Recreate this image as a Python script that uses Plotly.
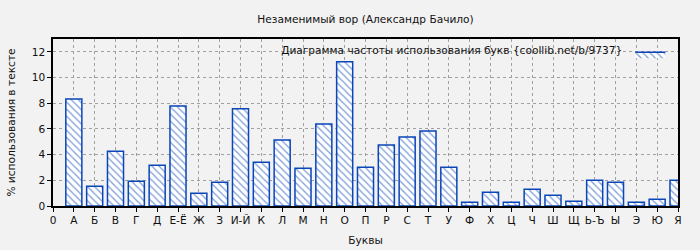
import plotly.graph_objects as go

labels = ["0", "А", "Б", "В", "Г", "Д", "Е-Ё", "Ж", "З", "И-Й", "К", "Л", "М", "Н", "О",
          "П", "Р", "С", "Т", "У", "Ф", "Х", "Ц", "Ч", "Ш", "Щ", "Ь-Ъ", "Ы", "Э", "Ю", "Я"]
letters = labels[1:]
values = [8.33, 1.54, 4.27, 1.93, 3.18, 7.79, 0.99, 1.85, 7.58, 3.41, 5.13, 2.94, 6.38, 11.22,
          3.02, 4.74, 5.37, 5.83, 3.02, 0.29, 1.07, 0.29, 1.30, 0.83, 0.37, 2.0, 1.85, 0.29, 0.52, 2.0]

positions = list(range(1, len(letters) + 1))
tick_positions = list(range(len(labels)))

blue = "#0a46b8"
font = "DejaVu Sans"
fs = 10.6

fig = go.Figure()
fig.add_trace(go.Bar(
    x=positions, y=values, width=0.77, name="",
    marker=dict(color="white", line=dict(color=blue, width=1.5),
                pattern=dict(shape="\\", fgcolor=blue, bgcolor="white", size=5, solidity=0.28)),
    showlegend=False,
))
# legend-only entry (no data) to get a wide hatched legend swatch
fig.add_trace(go.Scatter(
    x=[None], y=[None], mode="lines", fill="toself", name="",
    line=dict(color=blue, width=1.5), fillcolor="white",
    fillpattern=dict(shape="\\", fgcolor=blue, bgcolor="white", size=5, solidity=0.28),
    showlegend=True,
))

fig.update_layout(
    width=700, height=250,
    paper_bgcolor="#f2f2f2", plot_bgcolor="#f2f2f2",
    margin=dict(l=53, r=22, t=39, b=44),
    font=dict(family=font, size=fs, color="#111"),
    title=dict(text="Незаменимый вор (Александр Бачило)", x=0.5, xref="paper",
               y=1 - 19 / 250, yanchor="middle", font=dict(size=fs, family=font)),
    showlegend=True,
    legend=dict(orientation="h", x=0.997, xanchor="right", y=0.995, yanchor="top",
                bgcolor="rgba(0,0,0,0)",
                title=dict(text="Диаграмма частоты использования букв {coollib.net/b/9737}", side="left",
                           font=dict(size=fs, family=font)),
                font=dict(size=fs), itemwidth=30),
    bargap=0.2,
)

fig.update_xaxes(
    range=[0, 30], tickvals=tick_positions, ticktext=labels, tickangle=0,
    showgrid=True, gridcolor="#a0a0a0", griddash="dot", gridwidth=1,
    showline=True, linecolor="black", linewidth=1.5, mirror=True,
    ticks="outside", ticklen=4, tickcolor="black", zeroline=False, automargin=False,
    title=dict(text="Буквы", font=dict(size=fs), standoff=11),
    tickfont=dict(size=fs),
)
fig.update_yaxes(
    range=[0, 13], tickvals=[0, 2, 4, 6, 8, 10, 12],
    showgrid=True, gridcolor="#a0a0a0", griddash="dot", gridwidth=1,
    showline=True, linecolor="black", linewidth=1.5, mirror=True,
    ticks="outside", ticklen=4, tickcolor="black", zeroline=False, automargin=False,
    title=dict(text="% использования в тексте", font=dict(size=fs), standoff=14),
    tickfont=dict(size=fs),
)

fig.write_html("out.html")
